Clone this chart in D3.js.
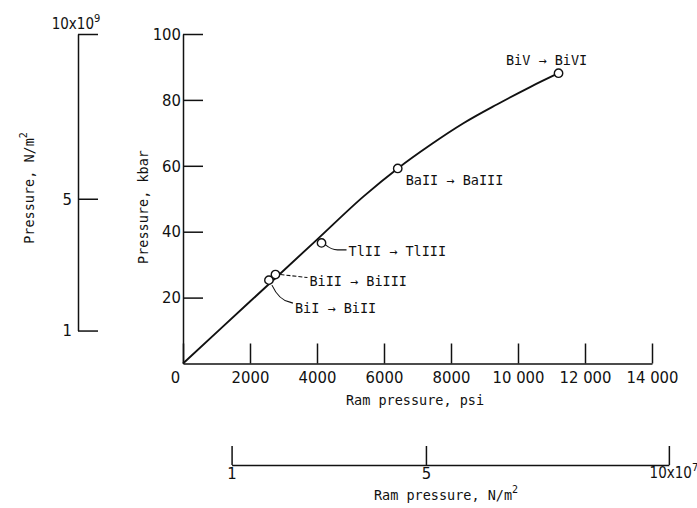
<!DOCTYPE html>
<html>
<head>
<meta charset="utf-8">
<script src="https://cdn.jsdelivr.net/npm/d3@7"></script>
<style>
  body { margin: 0; background: #fff; }
  svg { display: block; }
  .num { font-family: "Liberation Sans Narrow", "DejaVu Sans Condensed", sans-serif; font-size: 16.5px; fill: #111; }
  .lbl { font-family: "DejaVu Sans Mono", monospace; font-size: 13.5px; fill: #111; }
  .axis path, .axis line { stroke: #111; stroke-width: 1.5; fill: none; }
</style>
</head>
<body>
<script>
// calibration curve: ram pressure (psi) vs cell pressure (kbar)
var curvePsi  = [0, 2000, 4000, 5400, 6410, 7380, 8370, 9370, 10360, 11210];
var curveKbar = [0, 18.8, 37.6, 50.8, 59.2, 66.3, 72.9, 78.6, 83.9, 88.1];

// fixed-point transitions
var transitions = ["BiI \u2192 BiII", "BiII \u2192 BiIII", "TlII \u2192 TlIII", "BaII \u2192 BaIII", "BiV \u2192 BiVI"];
var pointPsi    = [2565, 2760, 4135, 6410, 11210];
var pointKbar   = [25.3, 27.0, 36.6, 59.2, 88.1];

// ticks
var psiTicks  = [0, 2000, 4000, 6000, 8000, 10000, 12000, 14000];
var psiLabels = ["0", "2000", "4000", "6000", "8000", "10 000", "12 000", "14 000"];
var kbarTicks = [20, 40, 60, 80, 100];
var siTicks   = [1, 5, 10];

var PSI_PER_PA = 1 / 6894.757;

var width = 697, height = 508;

var svg = d3.select("body").append("svg")
    .attr("width", width)
    .attr("height", height);

var x = d3.scaleLinear().domain([0, 14000]).range([183, 652]);
var y = d3.scaleLinear().domain([0, 100]).range([363.5, 34]);

// secondary scales in N/m^2 (1 kbar = 1e8 N/m^2)
var yN = d3.scaleLinear().domain([1, 10]).range([y(10), y(100)]);
var xN = d3.scaleLinear().domain([1, 10]).range([x(1e7 * PSI_PER_PA), x(1e8 * PSI_PER_PA)]);

// main x axis (psi)
var gx = svg.append("g")
    .attr("class", "axis")
    .attr("transform", "translate(0," + y(0) + ")")
    .call(d3.axisBottom(x)
      .tickValues(psiTicks)
      .tickSizeInner(-20)
      .tickSizeOuter(0)
      .tickPadding(8)
      .tickFormat(function(d, i) { return psiLabels[i]; }));
gx.selectAll("text").attr("class", "num").attr("fill", null)
  .filter(function(d) { return d === 0; }).attr("dx", -8);

// main y axis (kbar)
var gy = svg.append("g")
    .attr("class", "axis")
    .attr("transform", "translate(" + x(0) + ",0)")
    .call(d3.axisLeft(y)
      .tickValues(kbarTicks)
      .tickSizeInner(-20)
      .tickSizeOuter(0)
      .tickPadding(2));
gy.selectAll("text").attr("class", "num").attr("fill", null);

// left axis, N/m^2 x10^9
var gl = svg.append("g")
    .attr("class", "axis")
    .attr("transform", "translate(78,0)")
    .call(d3.axisLeft(yN)
      .tickValues(siTicks)
      .tickSizeInner(-20)
      .tickSizeOuter(0)
      .tickPadding(6)
      .tickFormat(function(d) { return d === 10 ? "" : d; }));
gl.selectAll("text").attr("class", "num").attr("fill", null);
var topLbl = svg.append("text").attr("class", "num")
    .attr("x", 76).attr("y", yN(10) - 5)
    .attr("text-anchor", "middle")
    .style("font-size", "15px")
    .text("10x10");
topLbl.append("tspan").attr("dy", -7).style("font-size", "11px").text("9");

// bottom axis, N/m^2 x10^7
var gb = svg.append("g")
    .attr("class", "axis")
    .attr("transform", "translate(0,465)")
    .call(d3.axisBottom(xN)
      .tickValues(siTicks)
      .tickSizeInner(-19)
      .tickSizeOuter(0)
      .tickPadding(2)
      .tickFormat(function(d) { return d === 10 ? "" : d; }));
gb.selectAll("text").attr("class", "num").attr("fill", null);
var endLbl = svg.append("text").attr("class", "num")
    .attr("x", xN(10) + 5).attr("y", 478)
    .attr("text-anchor", "middle")
    .style("font-size", "15px")
    .text("10x10");
endLbl.append("tspan").attr("dy", -7).style("font-size", "11px").text("7");

// axis titles
svg.append("text").attr("class", "lbl")
    .attr("x", 415).attr("y", 405)
    .attr("text-anchor", "middle")
    .text("Ram pressure,  psi");

var t2 = svg.append("text").attr("class", "lbl")
    .attr("x", 446).attr("y", 500)
    .attr("text-anchor", "middle")
    .text("Ram pressure,  N/m");
t2.append("tspan").attr("dy", -7).style("font-size", "10px").text("2");

svg.append("text").attr("class", "lbl")
    .attr("transform", "translate(148,207) rotate(-90)")
    .attr("text-anchor", "middle")
    .text("Pressure,  kbar");

var t4 = svg.append("text").attr("class", "lbl")
    .attr("transform", "translate(34,188) rotate(-90)")
    .attr("text-anchor", "middle")
    .text("Pressure,  N/m");
t4.append("tspan").attr("dy", -7).style("font-size", "10px").text("2");

// curve
var line = d3.line()
    .x(function(d, i) { return x(curvePsi[i]); })
    .y(function(d) { return y(d); })
    .curve(d3.curveMonotoneX);

svg.append("path")
    .datum(curveKbar)
    .attr("d", line)
    .attr("fill", "none")
    .attr("stroke", "#111")
    .attr("stroke-width", 1.9);

// label placement relative to each point (layout only)
var leaderPaths = [
  "M3,5 Q10,20 21,22 L24,23",
  "M5,0 L32,3",
  "M4,2 Q10,7 16,7 L25,7",
  null,
  null
];
var leaderDash = [null, "4,2", null, null, null];
var labelOffset = [[26, 28], [34, 7], [27, 8.5], [8, 12], [-12, -13]];
var labelAnchor = ["start", "start", "start", "start", "middle"];

var pts = svg.append("g").selectAll("g")
    .data(transitions)
    .join("g")
    .attr("transform", function(d, i) {
      return "translate(" + x(pointPsi[i]) + "," + y(pointKbar[i]) + ")";
    });

pts.filter(function(d, i) { return leaderPaths[i]; })
  .append("path")
    .attr("d", function(d) { return leaderPaths[transitions.indexOf(d)]; })
    .attr("stroke-dasharray", function(d) { return leaderDash[transitions.indexOf(d)]; })
    .attr("fill", "none")
    .attr("stroke", "#111")
    .attr("stroke-width", 1.1);

pts.append("circle")
    .attr("r", 4.2)
    .attr("fill", "#fff")
    .attr("stroke", "#111")
    .attr("stroke-width", 1.4);

pts.append("text")
    .attr("class", "lbl")
    .attr("x", function(d, i) { return labelOffset[i][0]; })
    .attr("y", function(d, i) { return labelOffset[i][1]; })
    .attr("dy", "0.35em")
    .attr("text-anchor", function(d, i) { return labelAnchor[i]; })
    .text(function(d) { return d; });
</script>
</body>
</html>
